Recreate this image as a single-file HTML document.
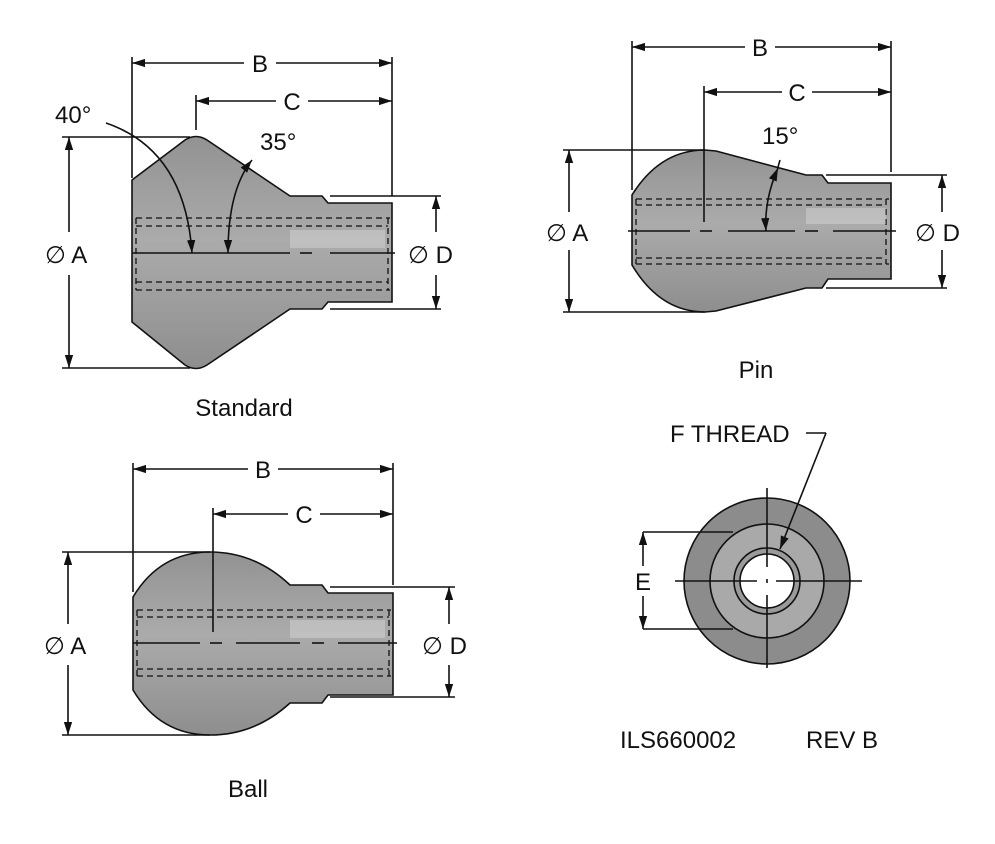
<!DOCTYPE html>
<html><head><meta charset="utf-8"><style>
html,body{margin:0;padding:0;background:#fff;}
svg{display:block;}
text{font-family:"Liberation Sans",sans-serif;fill:#111;}
</style></head><body>
<svg width="995" height="844" viewBox="0 0 995 844" xmlns="http://www.w3.org/2000/svg">
<defs>
<marker id="ar" viewBox="0 0 10 10" refX="10" refY="5" markerWidth="13" markerHeight="13" orient="auto-start-reverse" markerUnits="userSpaceOnUse"><path d="M0,1.8 L10,5 L0,8.2 z" fill="#111"/></marker>
<linearGradient id="g" x1="0" y1="0" x2="0" y2="1"><stop offset="0" stop-color="#929292"/><stop offset="0.45" stop-color="#ababab"/><stop offset="1" stop-color="#8e8e8e"/></linearGradient>
</defs>
<g stroke="#111" stroke-width="1.6" fill="none">
<!-- STANDARD -->
<path d="M132,180 L185,140 Q196,133 207,140 L290,196 L322,196 L328,203 L392,203 L392,302 L328,302 L322,309 L290,309 L207,365 Q196,372 185,365 L132,322 Z" fill="url(#g)"/>
<g stroke-dasharray="6,4" stroke-width="1.3"><line x1="136" y1="218" x2="390" y2="218"/><line x1="136" y1="226" x2="388" y2="226"/><line x1="136" y1="282" x2="388" y2="282"/><line x1="136" y1="290" x2="390" y2="290"/><line x1="136" y1="218" x2="136" y2="290"/><line x1="388" y1="218" x2="388" y2="290"/></g>
<line x1="132" y1="253" x2="290" y2="253"/><line x1="300" y1="253" x2="312" y2="253" /><line x1="330" y1="253" x2="395" y2="253"/>
<line x1="132" y1="57" x2="132" y2="178"/><line x1="392" y1="57" x2="392" y2="196"/><line x1="196" y1="95" x2="196" y2="130"/>
<line x1="132" y1="63" x2="244" y2="63" marker-start="url(#ar)"/><line x1="276" y1="63" x2="392" y2="63" marker-end="url(#ar)"/>
<line x1="196" y1="101" x2="276" y2="101" marker-start="url(#ar)"/><line x1="308" y1="101" x2="392" y2="101" marker-end="url(#ar)"/>
<line x1="62" y1="137" x2="190" y2="137"/><line x1="62" y1="368" x2="190" y2="368"/>
<line x1="69" y1="137" x2="69" y2="232" marker-start="url(#ar)"/><line x1="69" y1="275" x2="69" y2="368" marker-end="url(#ar)"/>
<line x1="330" y1="196" x2="441" y2="196"/><line x1="330" y1="309" x2="441" y2="309"/>
<line x1="436" y1="196" x2="436" y2="232" marker-start="url(#ar)"/><line x1="436" y1="275" x2="436" y2="309" marker-end="url(#ar)"/>
<path d="M106,123 Q185,150 192,253" marker-end="url(#ar)"/>
<path d="M252,160 Q228,190 228,253" marker-start="url(#ar)" marker-end="url(#ar)"/>
<!-- PIN -->
<path d="M632,195 Q660,150 705,150 L716,151 L806,175 L822,175 L828,183 L891,183 L891,279 L828,279 L822,288 L806,288 L716,311 L705,312 Q660,312 632,265 Z" fill="url(#g)"/>
<g stroke-dasharray="6,4" stroke-width="1.3"><line x1="636" y1="199" x2="889" y2="199"/><line x1="636" y1="205" x2="886" y2="205"/><line x1="636" y1="258" x2="886" y2="258"/><line x1="636" y1="264" x2="889" y2="264"/><line x1="636" y1="199" x2="636" y2="264"/><line x1="886" y1="199" x2="886" y2="264"/></g>
<line x1="628" y1="231" x2="690" y2="231"/><line x1="700" y1="231" x2="712" y2="231"/><line x1="728" y1="231" x2="795" y2="231"/><line x1="805" y1="231" x2="818" y2="231"/><line x1="833" y1="231" x2="896" y2="231"/>
<line x1="632" y1="41" x2="632" y2="190"/><line x1="891" y1="41" x2="891" y2="172"/><line x1="704" y1="86" x2="704" y2="222"/>
<line x1="632" y1="47" x2="745" y2="47" marker-start="url(#ar)"/><line x1="775" y1="47" x2="891" y2="47" marker-end="url(#ar)"/>
<line x1="704" y1="92" x2="782" y2="92" marker-start="url(#ar)"/><line x1="812" y1="92" x2="891" y2="92" marker-end="url(#ar)"/>
<line x1="563" y1="150" x2="705" y2="150"/><line x1="563" y1="312" x2="705" y2="312"/>
<line x1="569" y1="150" x2="569" y2="212" marker-start="url(#ar)"/><line x1="569" y1="250" x2="569" y2="312" marker-end="url(#ar)"/>
<line x1="826" y1="175" x2="947" y2="175"/><line x1="826" y1="288" x2="947" y2="288"/>
<line x1="942" y1="175" x2="942" y2="212" marker-start="url(#ar)"/><line x1="942" y1="250" x2="942" y2="288" marker-end="url(#ar)"/>
<path d="M778,168 Q764,200 766,231" marker-start="url(#ar)" marker-end="url(#ar)"/><line x1="780" y1="160" x2="778" y2="167"/>
<!-- BALL -->
<path d="M133,597 Q160,552 210,552 Q255,552 290,585 L322,585 L328,593 L393,593 L393,695 L328,695 L322,703 L290,703 Q255,735 210,735 Q160,735 133,690 Z" fill="url(#g)"/>
<g stroke-dasharray="6,4" stroke-width="1.3"><line x1="137" y1="610" x2="391" y2="610"/><line x1="137" y1="617" x2="389" y2="617"/><line x1="137" y1="669" x2="389" y2="669"/><line x1="137" y1="676" x2="391" y2="676"/><line x1="137" y1="610" x2="137" y2="676"/><line x1="389" y1="610" x2="389" y2="676"/></g>
<line x1="133" y1="643" x2="200" y2="643"/><line x1="210" y1="643" x2="222" y2="643"/><line x1="236" y1="643" x2="300" y2="643"/><line x1="312" y1="643" x2="324" y2="643"/><line x1="338" y1="643" x2="397" y2="643"/>
<line x1="133" y1="463" x2="133" y2="592"/><line x1="393" y1="463" x2="393" y2="585"/><line x1="213" y1="508" x2="213" y2="632"/>
<line x1="133" y1="469" x2="248" y2="469" marker-start="url(#ar)"/><line x1="278" y1="469" x2="393" y2="469" marker-end="url(#ar)"/>
<line x1="213" y1="514" x2="288" y2="514" marker-start="url(#ar)"/><line x1="320" y1="514" x2="393" y2="514" marker-end="url(#ar)"/>
<line x1="62" y1="552" x2="210" y2="552"/><line x1="62" y1="735" x2="210" y2="735"/>
<line x1="68" y1="552" x2="68" y2="624" marker-start="url(#ar)"/><line x1="68" y1="665" x2="68" y2="735" marker-end="url(#ar)"/>
<line x1="330" y1="587" x2="455" y2="587"/><line x1="330" y1="697" x2="455" y2="697"/>
<line x1="449" y1="587" x2="449" y2="624" marker-start="url(#ar)"/><line x1="449" y1="665" x2="449" y2="697" marker-end="url(#ar)"/>
<!-- END VIEW -->
<circle cx="767" cy="581" r="83" fill="#8c8c8c"/>
<circle cx="767" cy="581" r="57" fill="#a9a9a9"/>
<circle cx="767" cy="581" r="33" fill="#9a9a9a"/>
<circle cx="767" cy="581" r="27" fill="#fff"/>
<line x1="767" y1="488" x2="767" y2="567"/><line x1="767" y1="579" x2="767" y2="583"/><line x1="767" y1="595" x2="767" y2="668"/>
<line x1="675" y1="581" x2="757" y2="581"/><line x1="776" y1="581" x2="862" y2="581"/>
<line x1="643" y1="532" x2="733" y2="532"/><line x1="643" y1="629" x2="733" y2="629"/>
<line x1="643" y1="532" x2="643" y2="566" marker-start="url(#ar)"/><line x1="643" y1="596" x2="643" y2="629" marker-end="url(#ar)"/>
<line x1="806" y1="433" x2="826" y2="433"/><line x1="826" y1="433" x2="780" y2="549" marker-end="url(#ar)"/>
</g>
<g fill="#fff" stroke="none" opacity="0.25">
<rect x="290" y="230" width="95" height="18"/><rect x="806" y="208" width="80" height="16"/><rect x="290" y="620" width="95" height="18"/>
</g>
<g font-size="24">
<text x="260" y="72" text-anchor="middle">B</text>
<text x="292" y="110" text-anchor="middle">C</text>
<text x="55" y="123">40°</text>
<text x="260" y="150">35°</text>
<text x="45" y="263">∅ A</text>
<text x="408" y="263">∅ D</text>
<text x="244" y="416" text-anchor="middle">Standard</text>
<text x="760" y="56" text-anchor="middle">B</text>
<text x="797" y="101" text-anchor="middle">C</text>
<text x="762" y="144">15°</text>
<text x="546" y="241">∅ A</text>
<text x="915" y="241">∅ D</text>
<text x="756" y="378" text-anchor="middle">Pin</text>
<text x="263" y="478" text-anchor="middle">B</text>
<text x="304" y="523" text-anchor="middle">C</text>
<text x="44" y="654">∅ A</text>
<text x="422" y="654">∅ D</text>
<text x="248" y="797" text-anchor="middle">Ball</text>
<text x="670" y="442">F THREAD</text>
<text x="643" y="590" text-anchor="middle" style="paint-order:stroke;stroke:#fff;stroke-width:6px">E</text>
<text x="620" y="748">ILS660002</text>
<text x="806" y="748">REV B</text>
</g>
</svg>
</body></html>
